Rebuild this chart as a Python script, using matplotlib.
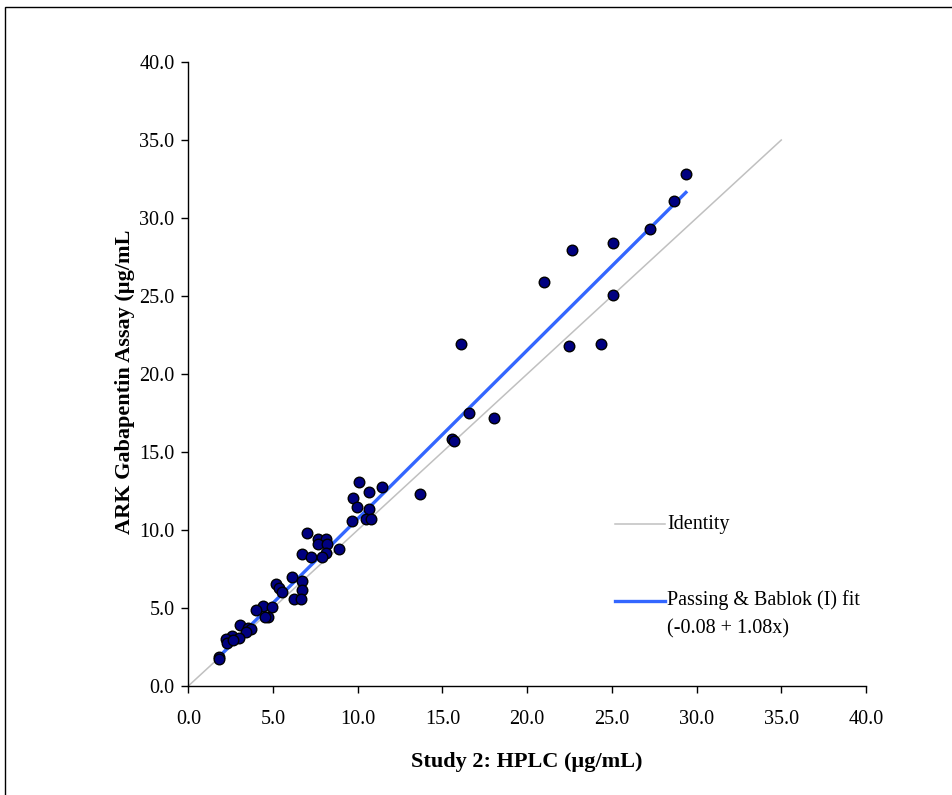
import numpy as np
import matplotlib
matplotlib.use('Agg')
import matplotlib.pyplot as plt
from matplotlib.patches import Rectangle

# HPLC (x) vs ARK assay (y)
hplc = [29.37, 28.64, 27.28, 25.07, 22.66, 20.99, 25.07, 16.08, 22.47, 24.34,
        16.59, 18.07, 15.54, 15.66, 13.7,
        10.08, 11.42, 10.69, 9.74, 9.98, 10.69, 9.64, 10.47, 10.78,
        7.01, 8.91, 7.66, 8.11, 7.66, 8.19, 8.11, 7.87, 6.73, 7.26,
        6.10, 6.73, 6.73, 6.22, 6.63, 5.16, 5.35, 5.51,
        4.41, 4.01, 4.92, 4.72, 4.53,
        3.05, 3.51, 3.72, 3.41, 2.56, 2.99, 2.23, 2.27, 2.62,
        1.79, 1.79]
ark = [32.80, 31.09, 29.28, 28.38, 27.93, 25.88, 25.08, 21.92, 21.79, 21.92,
       17.50, 17.18, 15.81, 15.69, 12.3,
       13.08, 12.74, 12.42, 12.05, 11.47, 11.35, 10.58, 10.69, 10.69,
       9.79, 8.76, 9.44, 9.44, 9.10, 9.10, 8.50, 8.29, 8.44, 8.29,
       6.97, 6.73, 6.15, 5.58, 5.58, 6.54, 6.30, 6.00,
       5.15, 4.89, 5.04, 4.44, 4.44,
       3.91, 3.74, 3.65, 3.46, 3.23, 3.10, 2.99, 2.78, 2.95,
       1.84, 1.71]

intercept = -0.08
slope = 1.08
identity_end = 35.0
ticks = np.arange(0, 45, 5)

plt.rcParams['font.family'] = ['Liberation Serif', 'DejaVu Serif']

fig = plt.figure(figsize=(9.53, 7.95), dpi=100)
ax = fig.add_axes([0.1976, 0.1371, 0.7111, 0.7849])

# outer frame of the original chart area
fig.add_artist(Rectangle((5 / 953, -0.5), 2.0, 1.5 - 7 / 795, transform=fig.transFigure,
                         fill=False, edgecolor='black', linewidth=1.0))

ax.plot([0, identity_end], [0, identity_end], color='#C0C0C0', linewidth=1.1, zorder=1)
fx = np.array([min(hplc) + 0.2, max(hplc)])
ax.plot(fx, intercept + slope * fx, color='#3366FF', linewidth=2.4, zorder=2)
ax.scatter(hplc, ark, s=58, facecolor='#000080', edgecolor='black', linewidth=1.0, zorder=3)

ax.set_xlim(0, 40)
ax.set_ylim(0, 40)
ax.set_xticks(ticks)
ax.set_yticks(ticks)
ax.set_xticklabels(['%.1f' % t for t in ticks])
ax.set_yticklabels(['%.1f' % t for t in ticks])
ax.tick_params(direction='out', length=5, width=1, labelsize=14.5, colors='black')
ax.tick_params(axis='x', pad=12)
ax.tick_params(axis='y', pad=5)
for s in ['top', 'right']:
    ax.spines[s].set_visible(False)
for s in ['left', 'bottom']:
    ax.spines[s].set_linewidth(1.0)

ax.set_xlabel('Study 2: HPLC (µg/mL)', fontsize=16, fontweight='bold')
ax.set_ylabel('ARK Gabapentin Assay (µg/mL', fontsize=16, fontweight='bold')
ax.xaxis.set_label_coords(0.5, -0.105)
ax.yaxis.set_label_coords(-0.078, 0.488)

# legend drawn by hand to match the original layout
ax.plot([0.630, 0.703], [0.259, 0.259], transform=ax.transAxes, color='#C0C0C0', linewidth=1.1)
ax.text(0.707, 0.259, 'Identity', transform=ax.transAxes, fontsize=14.5, va='center')
ax.plot([0.630, 0.703], [0.137, 0.137], transform=ax.transAxes, color='#3366FF', linewidth=2.4)
ax.text(0.707, 0.137, 'Passing & Bablok (I) fit', transform=ax.transAxes, fontsize=14.5, va='center')
ax.text(0.707, 0.091, '(-0.08 + 1.08x)', transform=ax.transAxes, fontsize=14.5, va='center')

fig.savefig('out.png', dpi=100)
